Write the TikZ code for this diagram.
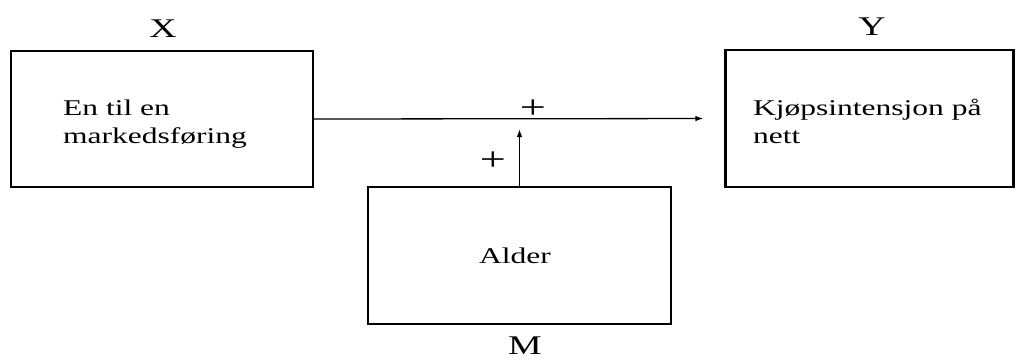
\documentclass[tikz,border=0pt]{standalone}
\usepackage{fontspec}
\setmainfont{Liberation Serif}[FakeStretch=1.4]
\usetikzlibrary{arrows.meta}
\begin{document}
\begin{tikzpicture}[x=1pt,y=-1pt,
  box/.style={draw=black,line width=2.2pt,minimum width=#1,inner sep=0pt},
  boxtext/.style={anchor=base west,inner sep=0pt,font=\fontsize{22.5}{28}\selectfont},
  varlabel/.style={inner sep=0pt,font=\fontsize{27}{30}\selectfont},
  sign/.style={inner sep=0pt,font=\fontsize{33}{36}\selectfont},
  conn/.style={line width=1.3pt,-{Latex[length=8pt,width=5.5pt]}}]
\useasboundingbox (0,0) rectangle (1016,360);
\node[box=302pt,minimum height=136pt] (x) at (162,119) {};
\node[box=288pt,minimum height=137pt] (y) at (869.5,118.5) {};
\node[box=303pt,minimum height=137pt] (m) at (519.5,255.5) {};
\node[boxtext] (xt1) at (63,115) {En til en};
\node[boxtext] (xt2) at (63,143) {markedsføring};
\node[boxtext] (yt1) at (753,115) {Kjøpsintensjon på};
\node[boxtext] (yt2) at (753,143) {nett};
\node[boxtext,anchor=base] (mt) at (515,263) {Alder};
\node[varlabel] (xl) at (163,29) {X};
\node[varlabel] (yl) at (872,27) {Y};
\node[varlabel] (ml) at (525,346) {M};
\draw[conn,shorten >=21pt] (x.east) -- (y.west);
\draw[conn,shorten >=10pt] (m.north) -- (m.north |- x.east);
\node[sign] (p1) at (533,109) {+};
\node[sign] (p2) at (493,161) {+};
\end{tikzpicture}
\end{document}
